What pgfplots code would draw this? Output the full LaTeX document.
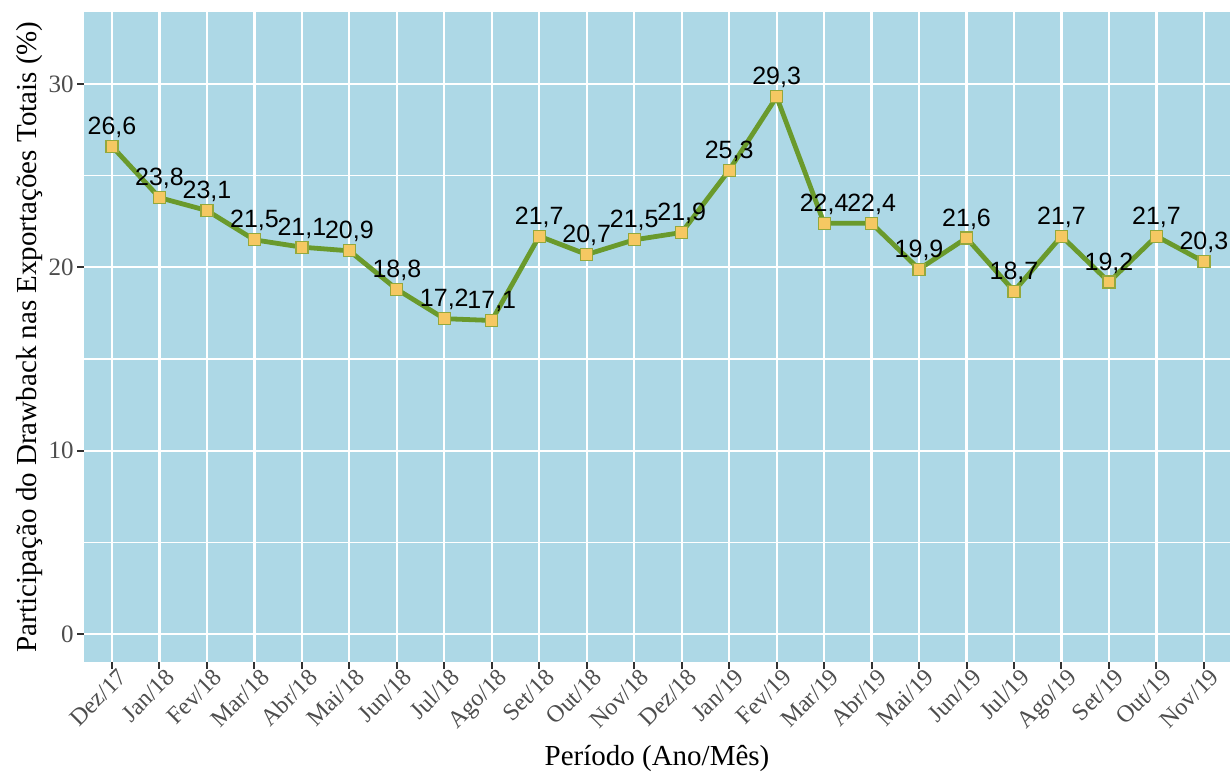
\documentclass[border=0pt]{standalone}
\usepackage{pgfplots}
\pgfplotsset{compat=1.18}
\usepackage{fontspec}
\setmainfont{Liberation Serif}
\newfontfamily\arial{Liberation Sans}
\definecolor{bgblue}{HTML}{ADD8E6}
\definecolor{linegreen}{RGB}{106,154,44}
\definecolor{markfill}{HTML}{F5C862}
\definecolor{tickgray}{HTML}{4D4D4D}
\definecolor{tickmark}{HTML}{333333}
\begin{document}
\begin{tikzpicture}
\path[use as bounding box] (-42pt,-56pt) rectangle (573pt,331pt);
\begin{axis}[
  at={(0,0)}, anchor=south west,
  scale only axis, width=573pt, height=325pt,
  xmin=-0.59, xmax=23.55, ymin=-1.53, ymax=33.93,
  axis background/.style={fill=bgblue},
  axis line style={draw=none},
  xtick={0,...,23},
  xticklabels={Dez/17,Jan/18,Fev/18,Mar/18,Abr/18,Mai/18,Jun/18,Jul/18,Ago/18,Set/18,Out/18,Nov/18,Dez/18,Jan/19,Fev/19,Mar/19,Abr/19,Mai/19,Jun/19,Jul/19,Ago/19,Set/19,Out/19,Nov/19},
  ytick={0,10,20,30},
  minor ytick={5,15,25},
  xtick pos=bottom, ytick pos=left,
  tick align=outside,
  major tick length=3.5pt, minor tick length=0pt,
  tick style={tickmark, line width=1pt},
  grid=both,
  major grid style={white, line width=1.1pt},
  minor grid style={white, line width=0.55pt},
  /pgf/number format/assume math mode=true,
  xticklabel style={rotate=45, anchor=north east, font=\fontsize{12pt}{14pt}\selectfont, text=tickgray, inner sep=1pt, xshift=3.5pt},
  yticklabel style={font=\fontsize{12.5pt}{14pt}\selectfont, text=tickgray, inner sep=1.5pt},
  xlabel={Período (Ano/Mês)},
  ylabel={Participação do Drawback nas Exportações Totais (\%)},
  label style={font=\fontsize{14.5pt}{16pt}\selectfont},
  xlabel style={at={(axis description cs:0.5,0)}, anchor=base, yshift=-52pt},
  ylabel style={at={(axis description cs:0,0.5)}, anchor=center, yshift=27pt},
  nodes near coords={\pgfmathprintnumber[use comma,fixed,fixed zerofill,precision=1,assume math mode=true]{\pgfplotspointmeta}},
  every node near coord/.append style={anchor=center, yshift=9.5pt, font=\arial\fontsize{12.5pt}{14pt}\selectfont, text=black, inner sep=0pt},
]
\addplot[linegreen, line width=2.4pt, mark=square*, mark size=3pt,
  mark options={fill=markfill, draw=linegreen!70!markfill, line width=0.6pt}]
coordinates {
(0,26.6) (1,23.8) (2,23.1) (3,21.5) (4,21.1) (5,20.9) (6,18.8) (7,17.2)
(8,17.1) (9,21.7) (10,20.7) (11,21.5) (12,21.9) (13,25.3) (14,29.3) (15,22.4)
(16,22.4) (17,19.9) (18,21.6) (19,18.7) (20,21.7) (21,19.2) (22,21.7) (23,20.3)
};
\end{axis}
\end{tikzpicture}
\end{document}
